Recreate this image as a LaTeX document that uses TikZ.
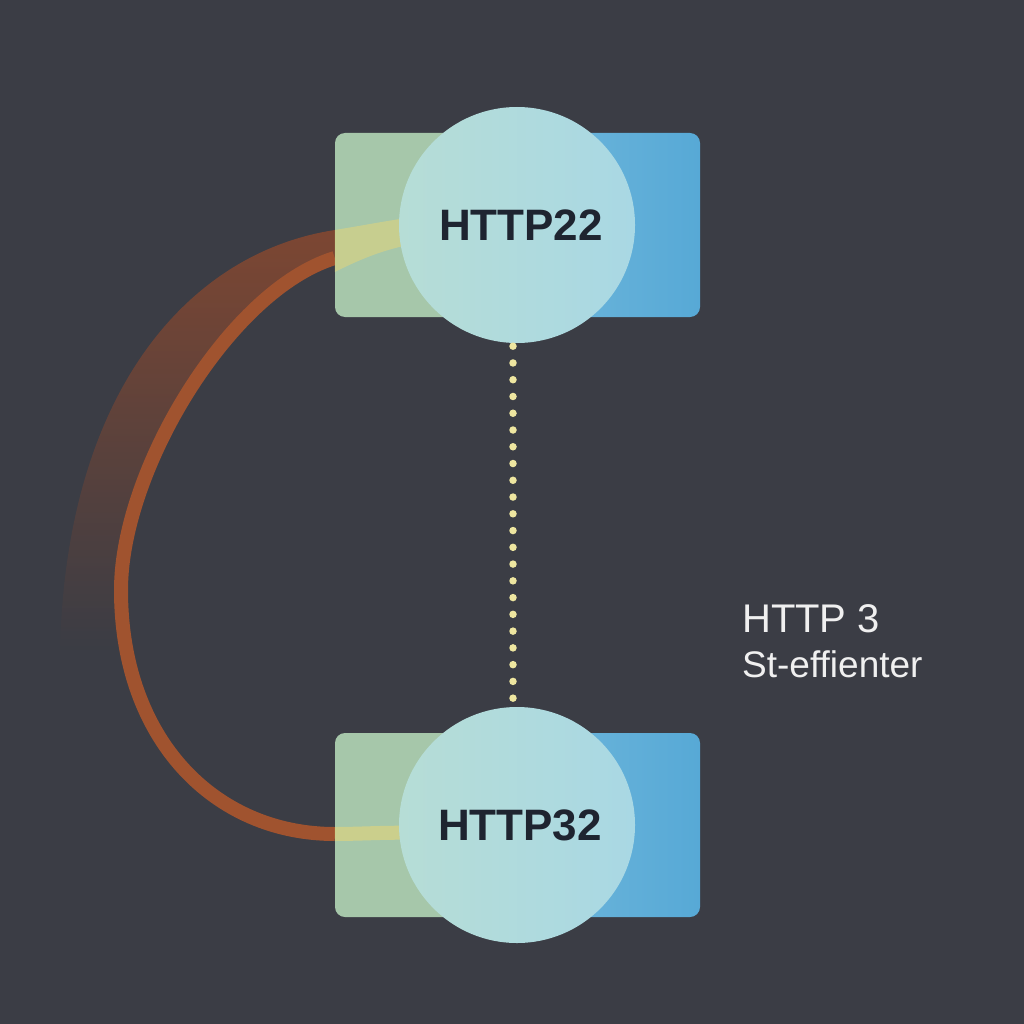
\documentclass[tikz,border=0pt]{standalone}
\usepackage{fontspec}
\setmainfont{Liberation Sans}
\usetikzlibrary{fadings}
\definecolor{bgc}{HTML}{3B3D45}
\definecolor{cardgreen}{HTML}{A6C7AA}
\definecolor{cardblueL}{HTML}{6AB4DA}
\definecolor{cardblueR}{HTML}{57A9D6}
\definecolor{bubL}{HTML}{B6DDD6}
\definecolor{bubR}{HTML}{A9D8E4}
\definecolor{ink}{HTML}{1E2430}
\definecolor{arcc}{HTML}{A0532F}
\definecolor{bandc}{HTML}{994B2B}
\definecolor{yel}{HTML}{F0D870}
\definecolor{dotc}{HTML}{EEE6A0}
\definecolor{lblc}{HTML}{F0F0F0}
\pgfdeclarelayer{back}
\pgfdeclarelayer{cards}
\pgfdeclarelayer{mid}
\pgfsetlayers{back,cards,mid,main}
\tikzset{
  card/.style={rectangle, rounded corners=10pt, minimum width=365pt, minimum height=184pt, inner sep=0pt,
    path picture={
      \fill[cardgreen] (path picture bounding box.north west) rectangle ([xshift=-40pt]path picture bounding box.south);
      \shade[left color=cardgreen, right color=cardblueL] ([xshift=-40pt]path picture bounding box.north) rectangle ([xshift=40pt]path picture bounding box.south);
      \shade[left color=cardblueL, right color=cardblueR] ([xshift=40pt]path picture bounding box.north) rectangle (path picture bounding box.south east);
    }},
  bubble/.style={circle, minimum size=236pt, inner sep=0pt, left color=bubL, right color=bubR,
    text=ink, font=\fontsize{44}{50}\selectfont\bfseries},
  arcline/.style={draw=arcc, line width=14pt},
  band/.style={fill=bandc, fill opacity=0.7, path fading=south},
  yelfill/.style={fill=yel, fill opacity=0.45},
  yelline/.style={draw=yel, draw opacity=0.5, line width=14pt},
  dotline/.style={draw=dotc, line width=7.5pt, line cap=round, dash pattern=on 0pt off 16.76pt},
  lbl/.style={text=lblc, anchor=base west, inner sep=0pt},
}
\begin{document}
\begin{tikzpicture}[x=1pt,y=-1pt]
\begin{pgfonlayer}{back}
\fill[bgc] (0,0) rectangle (1024,1024);
\end{pgfonlayer}
\useasboundingbox (0,0) rectangle (1024,1024);

\begin{pgfonlayer}{cards}
\node[card] (r2) at (517.5,225) {};
\node[card] (r3) at (517.5,825) {};
\end{pgfonlayer}

\node[bubble] (c2) at (517,225) {\hspace*{8pt}HTTP22};
\node[bubble] (c3) at (517,825) {\hspace*{6pt}HTTP32};

\begin{pgfonlayer}{back}
\fill[band] ([yshift=-5pt]r2.west) .. controls (190,252) and (66,390) .. (60,650)
  -- (121,650) -- (121,590) .. controls (121,470) and (230,290) .. ([yshift=-33pt]r2.west) -- cycle;
\draw[arcline] ([yshift=-33pt]r2.west) .. controls (230,290) and (121,470) .. (121,590)
  .. controls (121,740) and (215,834) .. ([yshift=-9pt]r3.west);
\end{pgfonlayer}

\begin{pgfonlayer}{mid}
\fill[yelfill] ([yshift=-5pt]r2.west) .. controls (360,226) and (385,221) .. ([xshift=15pt,yshift=8pt]c2.west)
  -- ([xshift=15pt,yshift=-19pt]c2.west) .. controls (380,250) and (355,262) .. ([yshift=-47pt]r2.west) -- cycle;
\draw[yelline] ([yshift=-9pt]r3.west) .. controls (360,834) and (390,832) .. ([xshift=15pt,yshift=-8pt]c3.west);
\end{pgfonlayer}

\draw[dotline, shorten <=3pt, shorten >=8pt] ([xshift=-4pt]c2.south) -- ([xshift=-4pt]c3.north);

\node[lbl, font=\fontsize{40}{46}\selectfont] (t1) at (742,632) {HTTP 3};
\node[lbl, font=\fontsize{37}{42}\selectfont] (t2) at (742,677) {St-effienter};
\end{tikzpicture}
\end{document}
